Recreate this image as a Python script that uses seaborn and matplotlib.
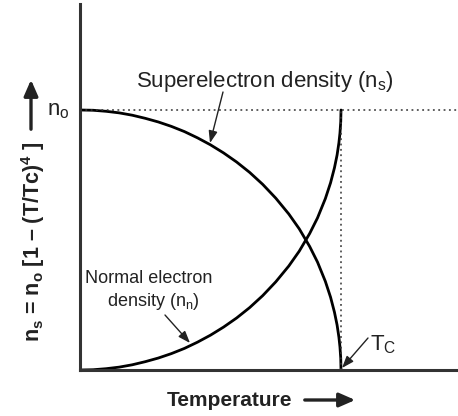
import matplotlib
matplotlib.use("Agg")
import matplotlib.pyplot as plt
from matplotlib.patches import FancyArrowPatch
import seaborn as sns
import pandas as pd

sns.set_theme(style="white")
plt.rcParams["font.family"] = ["Liberation Sans", "DejaVu Sans"]
plt.rcParams["mathtext.fontset"] = "custom"
plt.rcParams["mathtext.rm"] = "Liberation Sans"
plt.rcParams["mathtext.it"] = "Liberation Sans"
plt.rcParams["mathtext.bf"] = "Liberation Sans:bold"

# Reduced temperature T/Tc and densities in units of n_o
temperature = [0.0, 0.05, 0.1, 0.15, 0.2, 0.25, 0.3, 0.35, 0.4, 0.45, 0.5,
               0.55, 0.6, 0.65, 0.7, 0.75, 0.8, 0.84, 0.88, 0.91, 0.94, 0.96,
               0.975, 0.985, 0.992, 0.996, 0.999, 1.0]
super_density = [1.0, 0.999, 0.995, 0.989, 0.980, 0.968, 0.954, 0.937, 0.917,
                 0.893, 0.866, 0.835, 0.800, 0.760, 0.714, 0.661, 0.600, 0.543,
                 0.475, 0.415, 0.341, 0.280, 0.222, 0.173, 0.126, 0.089, 0.045,
                 0.0]
normal_density = [0.0, 0.001, 0.005, 0.011, 0.020, 0.032, 0.046, 0.063, 0.083,
                  0.107, 0.134, 0.165, 0.200, 0.240, 0.286, 0.339, 0.400, 0.457,
                  0.525, 0.585, 0.659, 0.720, 0.778, 0.827, 0.874, 0.911, 0.955,
                  1.0]

df = pd.DataFrame({
    "T": temperature * 2,
    "n": super_density + normal_density,
    "kind": ["super"] * len(temperature) + ["normal"] * len(temperature),
})

W, H = 458, 416
fig = plt.figure(figsize=(W / 100, H / 100), dpi=100)
ax = fig.add_axes([80 / W, 1 - 370 / H, 378 / W, 366 / H])

sns.lineplot(data=df, x="T", y="n", units="kind", estimator=None,
             color="black", linewidth=2.0, sort=False, ax=ax)

ax.set_xlim(0, 378 / 261)
ax.set_ylim(0, 366 / 260)
ax.set_xticks([])
ax.set_yticks([])
ax.set_xlabel("")
ax.set_ylabel("")
for side in ("top", "right"):
    ax.spines[side].set_visible(False)
for side in ("left", "bottom"):
    ax.spines[side].set_color("#333333")
    ax.spines[side].set_linewidth(2.2)

# reference levels n_o and Tc
dots = (0, (1.2, 2.3))
ax.axhline(1.0, color="#333333", linestyle=dots, linewidth=1.1)
ax.plot([1.0, 1.0], [0, 1.0], color="#333333", linestyle=dots, linewidth=1.1)


def px(x, y):
    """pixel position -> data coordinates"""
    return ((x - 80) / 261, (370 - y) / 260)


def fpx(x, y):
    """pixel position -> figure fraction"""
    return (x / W, 1 - y / H)


arrow = dict(arrowstyle="-|>,head_length=0.6,head_width=0.22",
             color="#222222", lw=1.0, shrinkA=0, shrinkB=0)
ink = "#222222"

# curve labels
ax.text(*px(136, 87), "Superelectron density (n$_\\mathregular{s}$)",
        fontsize=16, color=ink, ha="left", va="baseline", clip_on=False)
ax.annotate("", xy=px(210, 143), xytext=px(223, 92), arrowprops=arrow,
            annotation_clip=False)

ax.text(*px(149, 283), "Normal electron", fontsize=13, color=ink,
        ha="center", va="baseline")
ax.text(*px(153, 306), "density (n$_\\mathregular{n}$)", fontsize=13,
        color=ink, ha="center", va="baseline")
ax.annotate("", xy=px(190, 343), xytext=px(165, 315), arrowprops=arrow,
            annotation_clip=False)

ax.text(*px(370, 350), "T$_\\mathregular{C}$", fontsize=16, color=ink,
        ha="left", va="baseline")
ax.annotate("", xy=px(342, 368), xytext=px(368, 338), arrowprops=arrow,
            annotation_clip=False)

ax.text(*px(47, 115), "n$_\\mathregular{o}$", fontsize=16, color=ink,
        ha="left", va="baseline", clip_on=False)

# axis titles with direction arrows
fig.text(*fpx(230, 400), "Temperature", fontsize=15, fontweight="bold",
         color=ink, ha="center", va="center")
fig.add_artist(FancyArrowPatch(
    fpx(302, 400), fpx(358, 400), transform=fig.transFigure,
    arrowstyle="-|>,head_length=0.8,head_width=0.35",
    color=ink, lw=2.4, mutation_scale=12))

fig.text(*fpx(33, 242), "n$_\\mathbf{s}$ = n$_\\mathbf{o}$ [1 – (T/Tc)$^\\mathbf{4}$ ]",
         fontsize=15.5, fontweight="bold", color=ink, rotation=90,
         ha="center", va="center")
fig.add_artist(FancyArrowPatch(
    fpx(31, 132), fpx(31, 77), transform=fig.transFigure,
    arrowstyle="-|>,head_length=0.8,head_width=0.35",
    color=ink, lw=2.4, mutation_scale=12))

fig.savefig("out.png", dpi=100)
